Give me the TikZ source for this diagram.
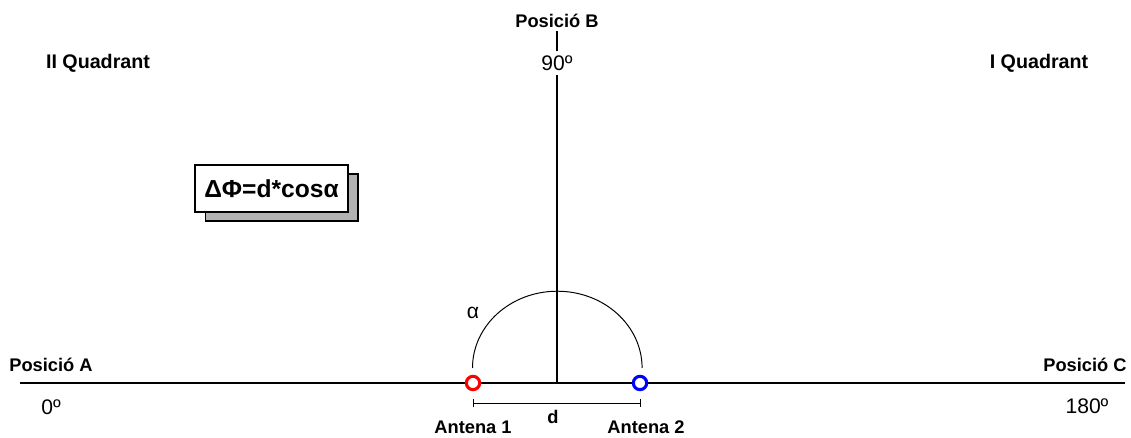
\documentclass[tikz,border=0pt]{standalone}
\usepackage{fontspec}
\setmainfont{Liberation Sans}
\usepackage{tikz}
\usetikzlibrary{shadows}

\begin{document}
\begin{tikzpicture}[x=0.025cm,y=0.025cm,
    lbl/.style={font=\fontsize{13}{15}\selectfont\bfseries,inner sep=1pt},
    deg/.style={font=\fontsize{15}{17}\selectfont,inner sep=1pt},
    ant/.style={circle,draw=#1,fill=white,line width=2.2pt,minimum size=9.5pt,inner sep=0pt}]
  \useasboundingbox (0,0) rectangle (1131,438);
  % axes
  \coordinate (west) at (20,55);
  \coordinate (east) at (1125,55);
  \coordinate (orig) at (557,55);
  \node[lbl] (posB) at (557,417) {Posició B};
  \draw[line width=2pt] (west) -- (east);
  \draw[line width=2pt] (posB.south)+(0,-2) coordinate (top) -- (orig);
  \node[deg,fill=white,inner sep=3pt] (deg90) at (557,375) {90º};
  \node[lbl] (posA) at (51,73) {Posició A};
  \node[lbl] (posC) at (1085,73) {Posició C};
  \node[deg] (deg0) at (51,31) {0º};
  \node[deg] (deg180) at (1087,32) {180º};
  \node[lbl,font=\fontsize{14}{16}\selectfont\bfseries] (quad2) at (98,375) {II Quadrant};
  \node[lbl,font=\fontsize{14}{16}\selectfont\bfseries] (quad1) at (1039,375) {I Quadrant};
  % angle and antennas
  \draw[line width=0.7pt] (472.5,70) arc[start angle=180,end angle=0,x radius=60.3pt,y radius=54.6pt];
  \node[deg] (alpha) at (473,125) {α};
  \node[ant=red] (ant1) at (473,55) {};
  \node[ant=blue] (ant2) at (640,55) {};
  \draw[line width=0.7pt] (ant1.center)+(0,-20) coordinate (d1) -- ++(0,-20) -- (ant2.center|-d1) coordinate (d2);
  \draw[line width=0.7pt] (d1)+(0,-4) -- +(0,4) (d2)+(0,-4) -- +(0,4);
  \node[lbl] (dist) at (553,21) {d};
  \node[lbl] (lab1) at (473,11) {Antena 1};
  \node[lbl] (lab2) at (646,11) {Antena 2};
  % formula
  \node[draw,line width=1.4pt,fill=white,minimum width=3.8cm,minimum height=1.17cm,
    font=\fontsize{17.5}{19}\selectfont\bfseries,
    drop shadow={shadow xshift=0.25cm,shadow yshift=-0.22cm,fill=black!30,draw=black,line width=1.4pt,opacity=1}]
    (formula) at (271.5,249.5) {ΔΦ=d*cosα};
\end{tikzpicture}
\end{document}
